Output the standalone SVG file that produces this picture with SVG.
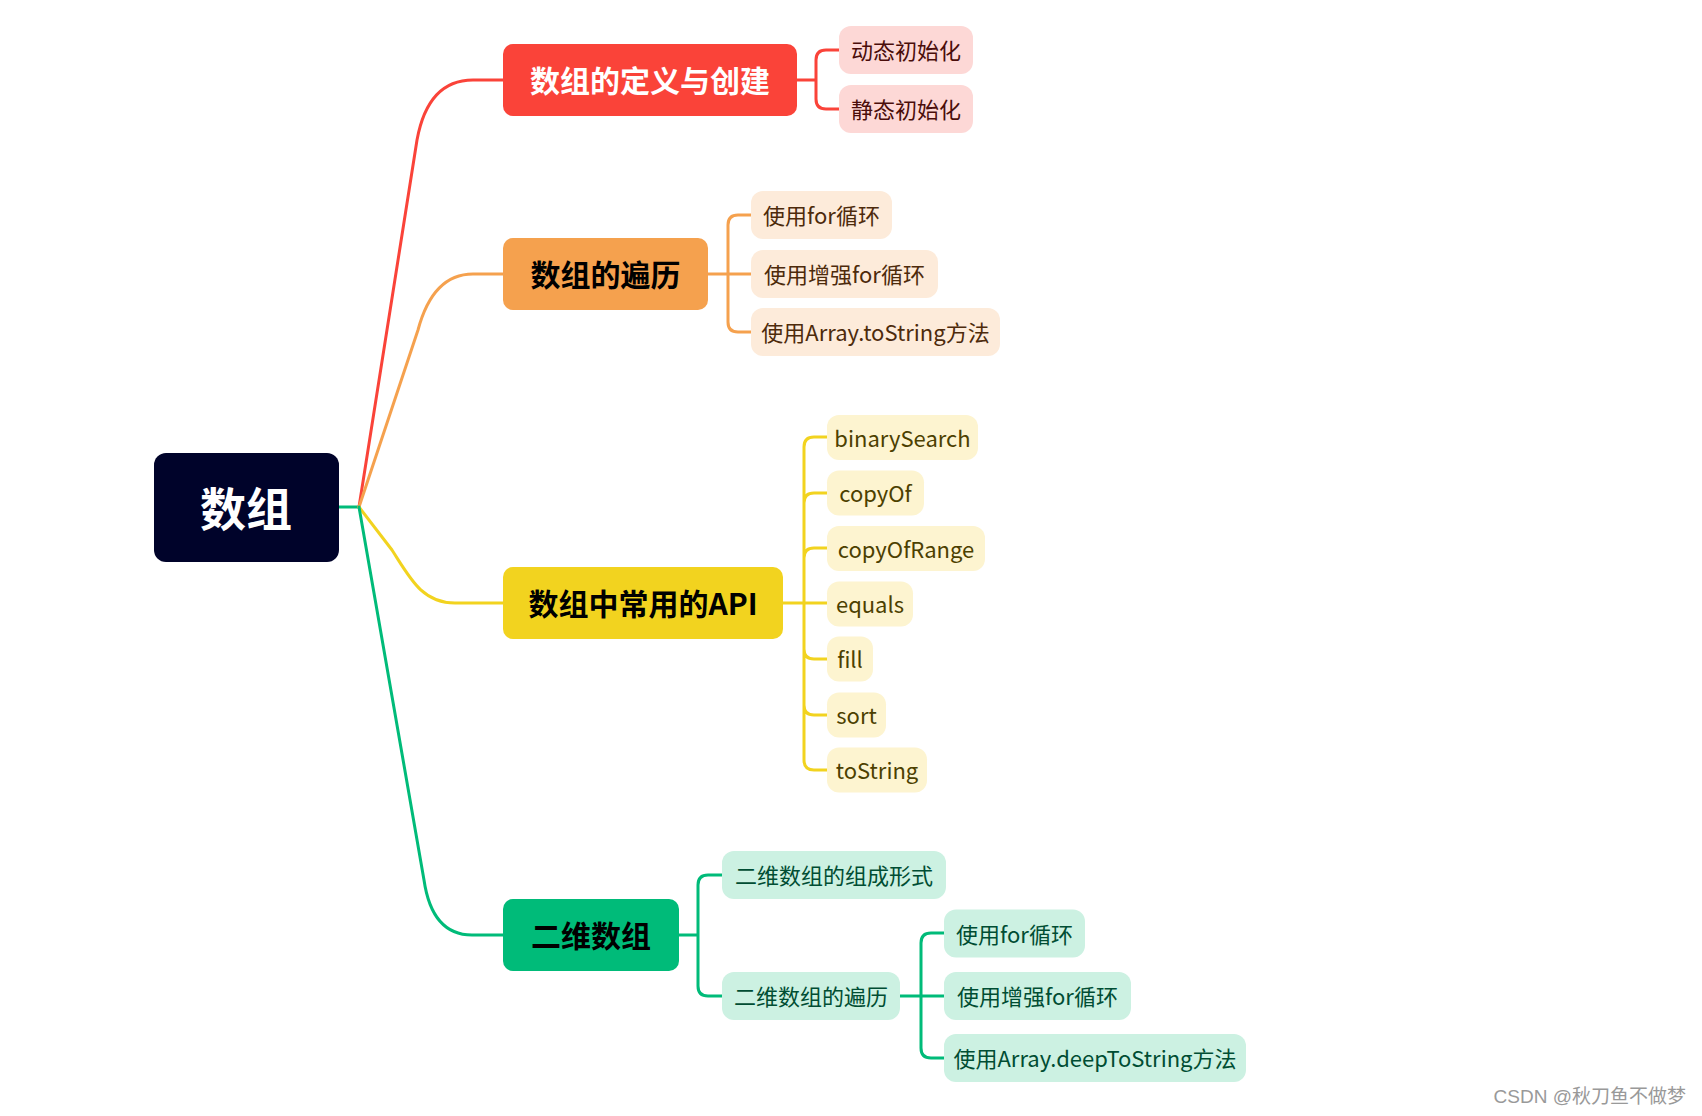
<svg xmlns="http://www.w3.org/2000/svg" width="1702" height="1116" viewBox="0 0 1702 1116">
<style>
text{font-family:"Noto Sans CJK SC","Noto Sans",sans-serif;dominant-baseline:central;text-anchor:middle}
.l1{font-size:30px;font-weight:bold;fill:#000}
.l2{font-size:22px}
.c{fill:none;stroke-width:3;stroke-linecap:round;stroke-linejoin:round}
.red{stroke:#fa4339}.org{stroke:#f5a14e}.yel{stroke:#f2d31f}.grn{stroke:#00bb79}
.kr rect{fill:#fdd8d6}.kr text{fill:#4a0d0a}
.ko rect{fill:#fdebda}.ko text{fill:#4d2a0b}
.ky rect{fill:#fdf4d0}.ky text{fill:#4c4000}
.kg rect{fill:#ccf1e2}.kg text{fill:#004d33}
</style>
<rect width="1702" height="1116" fill="#fff"/>
<g id="connectors" class="c">
<path class="grn" d="M339,507 H359"/>
<path class="red" d="M359,507 L417,140 Q428,80 473,80 H503"/>
<path class="org" d="M359,507 L418,330 Q433,274 473,274 H503"/>
<path class="yel" d="M359,507 L392,550 C410,578 422,603 455,603 H503"/>
<path class="grn" d="M359,507 L424,880 Q432,935 472,935 H503"/>
<path class="red" d="M797,80 H816 V60 Q816,50 826,50 H839 M816,80 V99 Q816,109 826,109 H839"/>
<path class="org" d="M708,274 H751 M728,274 V225 Q728,215 738,215 H751 M728,274 V322 Q728,332 738,332 H751"/>
<path class="yel" d="M783,603 H827 M804,603 V447 Q804,437 814,437 H827 M804,603 V503 Q804,493 814,493 H827 M804,603 V558 Q804,548 814,548 H827 M804,603 V649 Q804,659 814,659 H827 M804,603 V705 Q804,715 814,715 H827 M804,603 V760 Q804,770 814,770 H827"/>
<path class="grn" d="M679,935 H698 V885 Q698,875 708,875 H722 M698,935 V986 Q698,996 708,996 H722"/>
<path class="grn" d="M900,996 H944 M921,996 V943 Q921,933 931,933 H944 M921,996 V1048 Q921,1058 931,1058 H944"/>
</g>
<g id="root"><rect x="154" y="453" width="185" height="109" rx="12" fill="#00032a"/><text x="246" y="506" style="font-size:46px;font-weight:bold;fill:#fff">数组</text></g>
<g id="n1"><rect x="503" y="44" width="294" height="72" rx="10" fill="#fa4339"/><text class="l1" x="650" y="79" style="font-size:30px;fill:#fff">数组的定义与创建</text></g>
<g id="n2"><rect x="503" y="238" width="205" height="72" rx="10" fill="#f5a14e"/><text class="l1" x="605.5" y="273">数组的遍历</text></g>
<g id="n3"><rect x="503" y="567" width="280" height="72" rx="10" fill="#f2d31f"/><text class="l1" x="643" y="602">数组中常用的API</text></g>
<g id="n4"><rect x="503" y="899" width="176" height="72" rx="10" fill="#00bb79"/><text class="l1" x="591" y="934">二维数组</text></g>
<g class="kr l2">
<g id="n1a"><rect x="839" y="26" width="134" height="48" rx="12"/><text x="906" y="49">动态初始化</text></g>
<g id="n1b"><rect x="839" y="85" width="134" height="48" rx="12"/><text x="906" y="108">静态初始化</text></g>
</g>
<g class="ko l2">
<g id="n2a"><rect x="751" y="191" width="141" height="48" rx="12"/><text x="821.5" y="214">使用for循环</text></g>
<g id="n2b"><rect x="751" y="250" width="187" height="48" rx="12"/><text x="844.5" y="273">使用增强for循环</text></g>
<g id="n2c"><rect x="751" y="308" width="249" height="48" rx="12"/><text x="875.5" y="331">使用Array.toString方法</text></g>
</g>
<g class="ky l2">
<g id="n3a"><rect x="827" y="415" width="151" height="45" rx="12"/><text x="902.5" y="436.5">binarySearch</text></g>
<g id="n3b"><rect x="827" y="470.5" width="97" height="45" rx="12"/><text x="875.5" y="492">copyOf</text></g>
<g id="n3c"><rect x="827" y="526" width="158" height="45" rx="12"/><text x="906" y="547.5">copyOfRange</text></g>
<g id="n3d"><rect x="827" y="581.5" width="86" height="45" rx="12"/><text x="870" y="603">equals</text></g>
<g id="n3e"><rect x="827" y="636.5" width="46" height="45" rx="12"/><text x="850" y="658">fill</text></g>
<g id="n3f"><rect x="827" y="692.5" width="59" height="45" rx="12"/><text x="856.5" y="714">sort</text></g>
<g id="n3g"><rect x="827" y="747.5" width="100" height="45" rx="12"/><text x="877" y="769">toString</text></g>
</g>
<g class="kg l2">
<g id="n4a"><rect x="722" y="851" width="224" height="48" rx="12"/><text x="834" y="874">二维数组的组成形式</text></g>
<g id="n4b"><rect x="722" y="972" width="178" height="48" rx="12"/><text x="811" y="995">二维数组的遍历</text></g>
<g id="n4b1"><rect x="944" y="909.5" width="141" height="48" rx="12"/><text x="1014.5" y="932.5">使用for循环</text></g>
<g id="n4b2"><rect x="944" y="972" width="187" height="48" rx="12"/><text x="1037.5" y="995">使用增强for循环</text></g>
<g id="n4b3"><rect x="944" y="1034" width="302" height="48" rx="12"/><text x="1095" y="1057">使用Array.deepToString方法</text></g>
</g>
<text x="1686" y="1096" style="font-size:19px;fill:#999;text-anchor:end;font-family:'Liberation Sans','Noto Sans CJK SC',sans-serif">CSDN @秋刀鱼不做梦</text>
</svg>
